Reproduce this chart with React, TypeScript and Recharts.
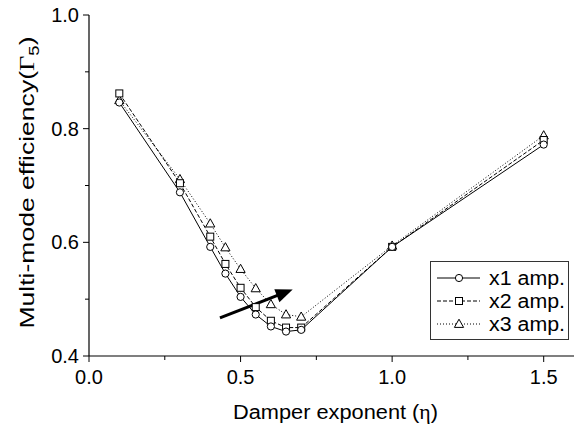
import React from "react";
import {
  LineChart,
  Line,
  XAxis,
  YAxis,
  Legend,
  ReferenceLine,
  Label,
} from "recharts";

// damper exponent values (x)
const etaValues = [0.1, 0.3, 0.4, 0.45, 0.5, 0.55, 0.6, 0.65, 0.7, 1.0, 1.5];
// multi-mode efficiency for each amplitude
const amp1 = [0.846, 0.688, 0.592, 0.545, 0.504, 0.473, 0.452, 0.443, 0.446, 0.592, 0.772];
const amp2 = [0.862, 0.704, 0.61, 0.562, 0.52, 0.486, 0.462, 0.45, 0.45, 0.592, 0.78];
const amp3 = [0.85, 0.711, 0.633, 0.591, 0.553, 0.519, 0.491, 0.473, 0.469, 0.594, 0.788];

const xTicks = [0, 0.25, 0.5, 0.75, 1.0, 1.25, 1.5];
const yTicks = [0.4, 0.5, 0.6, 0.7, 0.8, 0.9, 1.0];
const legendNames = ["x1 amp.", "x2 amp.", "x3 amp."];

// arrow annotation (data coords)
const arrowPath = [
  { x: 0.432, y: 0.467 },
  { x: 0.672, y: 0.517 },
];

const data = etaValues.map((eta, i) => ({
  eta,
  a1: amp1[i],
  a2: amp2[i],
  a3: amp3[i],
}));

const FONT = "'Liberation Sans', Arial, sans-serif";
const SERIF = "'Liberation Serif', 'Times New Roman', serif";
const DASH = "4 2";
const DOT = "1 2";

const circleDot = (p: any) => (
  <circle
    key={`c-${p.index}`}
    cx={p.cx}
    cy={p.cy}
    r={3.6}
    fill="#fff"
    stroke="#000"
    strokeWidth={1}
  />
);

const squareDot = (p: any) => (
  <rect
    key={`s-${p.index}`}
    x={p.cx - 3.5}
    y={p.cy - 3.5}
    width={7}
    height={7}
    fill="#fff"
    stroke="#000"
    strokeWidth={1}
  />
);

const triangleDot = (p: any) => (
  <polygon
    key={`t-${p.index}`}
    points={`${p.cx},${p.cy - 4.8} ${p.cx - 4.6},${p.cy + 3.4} ${p.cx + 4.6},${p.cy + 3.4}`}
    fill="#fff"
    stroke="#000"
    strokeWidth={1}
  />
);

function XTick({ x, y, payload }: any) {
  const v = payload.value;
  const major = Math.round(v * 4) % 2 === 0;
  const axisY = y - 8;
  return (
    <g>
      <line x1={x} x2={x} y1={axisY} y2={axisY + (major ? 6 : 4)} stroke="#000" />
      {major && (
        <text x={x} y={axisY + 28} textAnchor="middle" fontSize={20} fontFamily={FONT} fill="#000">
          {v.toFixed(1)}
        </text>
      )}
    </g>
  );
}

function YTick({ x, y, payload }: any) {
  const v = payload.value;
  const major = Math.round(v * 10) % 2 === 0;
  const axisX = x + 8;
  return (
    <g>
      <line x1={axisX} x2={axisX - (major ? 6 : 4)} y1={y} y2={y} stroke="#000" />
      {major && (
        <text x={axisX - 10} y={y + 7} textAnchor="end" fontSize={20} fontFamily={FONT} fill="#000">
          {v.toFixed(1)}
        </text>
      )}
    </g>
  );
}

function XLabel({ viewBox }: any) {
  const cx = viewBox.x + viewBox.width / 2 + 4;
  return (
    <text
      x={cx}
      y={viewBox.y + 63}
      textAnchor="middle"
      fontSize={20}
      fontFamily={FONT}
      fill="#000"
      textLength={205}
      lengthAdjust="spacingAndGlyphs"
    >
      Damper exponent (<tspan fontFamily={SERIF}>η</tspan>)
    </text>
  );
}

function YLabel({ viewBox }: any) {
  const cx = 34;
  const cy = viewBox.y + viewBox.height / 2 - 3;
  return (
    <text
      x={cx}
      y={cy}
      transform={`rotate(-90 ${cx} ${cy})`}
      textAnchor="middle"
      fontSize={20}
      fontFamily={FONT}
      fill="#000"
      textLength={292}
      lengthAdjust="spacingAndGlyphs"
    >
      Multi-mode efficiency(<tspan fontFamily={SERIF}>Γ</tspan>
      <tspan fontSize={14} dy={5}>5</tspan>
      <tspan dy={-5}>)</tspan>
    </text>
  );
}

function Arrow(p: any) {
  const { x1, y1, x2, y2 } = p;
  const ang = Math.atan2(y2 - y1, x2 - x1);
  const len = 17;
  const half = 7;
  const bx = x2 - len * Math.cos(ang);
  const by = y2 - len * Math.sin(ang);
  const nx = -Math.sin(ang);
  const ny = Math.cos(ang);
  return (
    <g>
      <line x1={x1} y1={y1} x2={bx + 2 * Math.cos(ang)} y2={by + 2 * Math.sin(ang)} stroke="#000" strokeWidth={3} />
      <polygon
        points={`${x2},${y2} ${bx + nx * half},${by + ny * half} ${bx - nx * half},${by - ny * half}`}
        fill="#000"
      />
    </g>
  );
}

const legendStyles = [
  { dash: undefined, dot: "circle" },
  { dash: DASH, dot: "square" },
  { dash: DOT, dot: "triangle" },
];

function LegendBox() {
  return (
    <svg width={139} height={79} style={{ display: "block" }}>
      <rect x={0.5} y={0.5} width={138} height={78} fill="#fff" stroke="#333" strokeWidth={1} />
      {legendNames.map((name, i) => {
        const cy = 17 + i * 23;
        const st = legendStyles[i];
        return (
          <g key={name}>
            <line x1={7} x2={50} y1={cy} y2={cy} stroke="#000" strokeWidth={1} strokeDasharray={st.dash} />
            {st.dot === "circle" && circleDot({ cx: 29, cy, index: 0 })}
            {st.dot === "square" && squareDot({ cx: 29, cy, index: 0 })}
            {st.dot === "triangle" && triangleDot({ cx: 29, cy, index: 0 })}
            <text
              x={59}
              y={cy + 7}
              fontSize={20}
              fontFamily={FONT}
              fill="#000"
              textLength={76}
              lengthAdjust="spacingAndGlyphs"
            >
              {name}
            </text>
          </g>
        );
      })}
    </svg>
  );
}

export default function App() {
  return (
    <div style={{ position: "absolute", left: 0, top: 0, background: "#fff" }}>
      <LineChart
        width={577}
        height={426}
        data={data}
        margin={{ top: 15, right: 3, bottom: 0, left: 0 }}
      >
        <XAxis
          dataKey="eta"
          type="number"
          domain={[0, 1.6]}
          ticks={xTicks}
          height={70}
          tickSize={6}
          tickMargin={2}
          tickLine={false}
          tick={<XTick />}
          axisLine={{ stroke: "#000", strokeWidth: 1.2 }}
          allowDataOverflow
        >
          <Label content={<XLabel />} />
        </XAxis>
        <YAxis
          type="number"
          domain={[0.4, 1.0]}
          ticks={yTicks}
          width={89}
          tickSize={6}
          tickMargin={2}
          tickLine={false}
          tick={<YTick />}
          axisLine={{ stroke: "#000", strokeWidth: 1.2 }}
          allowDataOverflow
        >
          <Label content={<YLabel />} />
        </YAxis>
        <Legend
          layout="horizontal"
          verticalAlign="middle"
          content={<LegendBox />}
          wrapperStyle={{ position: "absolute", left: 430, top: 261, width: 139, height: 79 }}
        />
        <Line
          dataKey="a3"
          name={legendNames[2]}
          stroke="#000"
          strokeWidth={1}
          strokeDasharray={DOT}
          dot={triangleDot}
          isAnimationActive={false}
        />
        <Line
          dataKey="a2"
          name={legendNames[1]}
          stroke="#000"
          strokeWidth={1}
          strokeDasharray={DASH}
          dot={squareDot}
          isAnimationActive={false}
        />
        <Line
          dataKey="a1"
          name={legendNames[0]}
          stroke="#000"
          strokeWidth={1}
          dot={circleDot}
          isAnimationActive={false}
        />
        <ReferenceLine segment={arrowPath} shape={Arrow} ifOverflow="visible" />
      </LineChart>
    </div>
  );
}
